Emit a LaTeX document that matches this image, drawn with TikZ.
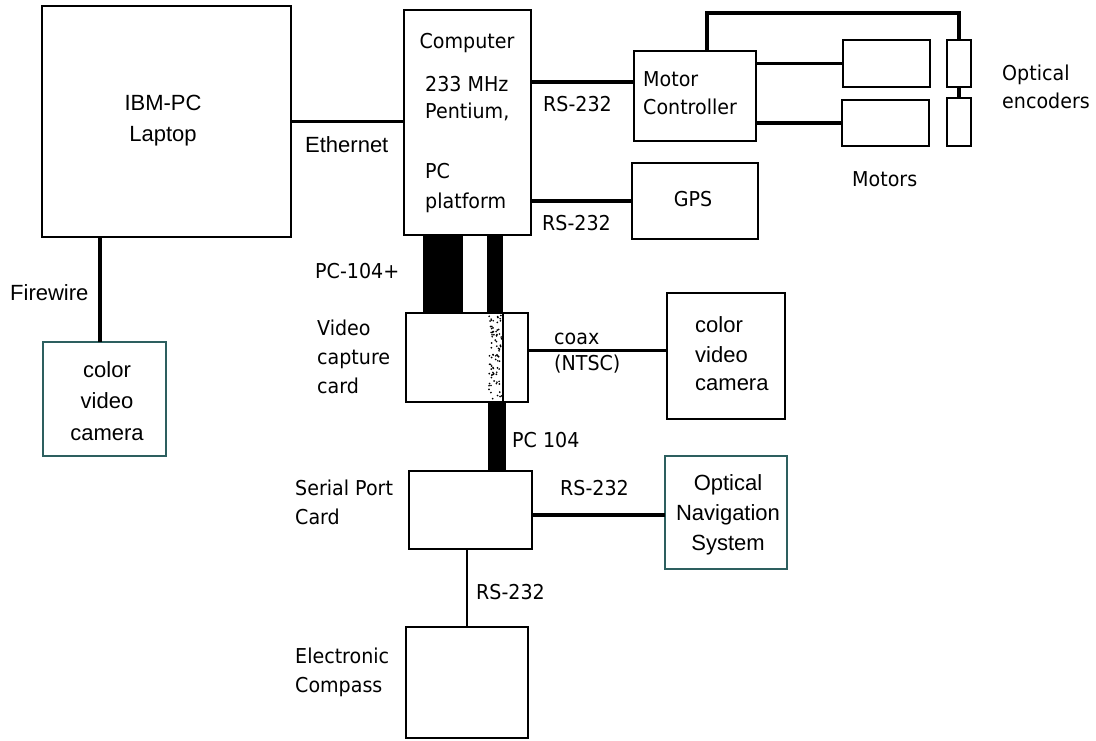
\documentclass[tikz,border=0pt]{standalone}
\usepackage{fontspec}
\newfontfamily\gen[FakeStretch=0.93]{DejaVu Sans}
\newfontfamily\hel{Liberation Sans}
\definecolor{teal1}{RGB}{45,95,95}
\begin{document}
\begin{tikzpicture}[x=1pt,y=-1pt,
  box/.style={draw=black,line width=1.6pt,inner sep=0pt,outer sep=0pt,rectangle},
  tbox/.style={box,draw=teal1},
  conn/.style={line width=3.2pt},
  thin/.style={line width=2.4pt},
  gl/.style={inner sep=0pt,font=\gen\fontsize{20.5}{24}\selectfont},
  hl/.style={inner sep=0pt,font=\hel\fontsize{22}{26}\selectfont}]
\useasboundingbox[fill=white] (0,0) rectangle (1096,740);
% boxes
\node[box,minimum width=249pt,minimum height=231pt] (laptop) at (166.5,121.5) {};
\node[tbox,minimum width=123pt,minimum height=114pt] (camL) at (104.5,399) {};
\node[box,minimum width=127pt,minimum height=225pt] (computer) at (467.5,122.5) {};
\node[box,minimum width=122pt,minimum height=90pt] (mc) at (695,96) {};
\node[box,minimum width=126pt,minimum height=76pt] (gps) at (695,201) {};
\node[box,minimum width=87pt,minimum height=47pt] (mot1) at (886.5,63.5) {};
\node[box,minimum width=87pt,minimum height=46pt] (mot2) at (885.5,123) {};
\node[box,minimum width=24pt,minimum height=47pt] (enc1) at (959,63.5) {};
\node[box,minimum width=24pt,minimum height=48pt] (enc2) at (959,122) {};
\node[box,minimum width=122pt,minimum height=89pt] (vcard) at (467,357.5) {};
\node[box,minimum width=118pt,minimum height=126pt] (camR) at (726,356) {};
\node[box,minimum width=123pt,minimum height=78pt] (serial) at (470.5,510) {};
\node[tbox,minimum width=122pt,minimum height=113pt] (ons) at (726,512.5) {};
\node[box,minimum width=122pt,minimum height=111pt] (compass) at (467,682.5) {};
% connectors
\draw[conn] (laptop.east) -- (laptop.east -| computer.west);
\draw[conn] ([xshift=-4.5pt]camL.north) -- ([xshift=-4.5pt]camL.north |- laptop.south);
\draw[conn] ([yshift=14pt]mc.west) -- ([yshift=14pt]mc.west -| computer.east);
\draw[conn] (gps.west) -- (gps.west -| computer.east);
\draw[conn] (mot1.west) -- (mot1.west -| mc.east);
\draw[conn] (mot2.west) -- (mot2.west -| mc.east);
\draw[conn] ([xshift=12pt]mc.north) -- ++(0,-38) -| (enc1.north);
\draw[conn] (enc1.south) -- (enc2.north);
\draw[conn] ([yshift=5.5pt]camR.west) -- ([yshift=5.5pt]camR.west -| vcard.east);
\draw[conn] ([yshift=-2.5pt]ons.west) -- ([yshift=-2.5pt]ons.west -| serial.east);
\draw[thin] (compass.north) -- (compass.north |- serial.south);
% PC-104 buses
\fill[black] ([xshift=19pt]computer.south west) rectangle ([xshift=57pt]vcard.north west);
\fill[black] ([xshift=83pt]computer.south west) rectangle ([xshift=97pt]vcard.north west);
\fill[black] ([xshift=82pt]vcard.south west) rectangle ([xshift=97pt]serial.north west);
\pgfmathsetseed{11}
\foreach \i in {1,...,85}{
  \pgfmathsetmacro{\dx}{83+13*rnd}
  \pgfmathsetmacro{\dy}{2+85*rnd}
  \fill[black] ([xshift=\dx pt,yshift=-\dy pt]vcard.north west) circle (0.95pt);
}
\draw[line width=1.8pt] ([xshift=97pt]vcard.north west) -- ([xshift=97pt]vcard.south west);
\draw[line width=1.6pt] (vcard.north west) -- (vcard.north east) -- (vcard.south east) -- (vcard.south west) -- cycle;
% labels (Geneva-like)
\node[gl,anchor=base] (t1) at (467,48) {Computer};
\node[gl,anchor=base west] (t2) at (425,91) {233 MHz};
\node[gl,anchor=base west] (t3) at (425,118) {Pentium,};
\node[gl,anchor=base west] (t4) at (425,178) {PC};
\node[gl,anchor=base west] (t5) at (425,208) {platform};
\node[gl,anchor=base west] (t6) at (543,111) {RS-232};
\node[gl,anchor=base west] (t7) at (542,230) {RS-232};
\node[gl,anchor=base west] (t8) at (643,86) {Motor};
\node[gl,anchor=base west] (t9) at (643,114) {Controller};
\node[gl,anchor=base] (t10) at (693,206) {GPS};
\node[gl,anchor=base west] (t11) at (1002,80) {Optical};
\node[gl,anchor=base west] (t12) at (1002,108) {encoders};
\node[gl,anchor=base west] (t13) at (852,186) {Motors};
\node[gl,anchor=base west] (t14) at (315,278) {PC-104+};
\node[gl,anchor=base west] (t15) at (317,335) {Video};
\node[gl,anchor=base west] (t16) at (317,364) {capture};
\node[gl,anchor=base west] (t17) at (317,393) {card};
\node[gl,anchor=base west] (t18) at (554,344) {coax};
\node[gl,anchor=base west] (t19) at (554,370) {(NTSC)};
\node[gl,anchor=base west] (t20) at (512,447) {PC 104};
\node[gl,anchor=base west] (t21) at (295,495) {Serial Port};
\node[gl,anchor=base west] (t22) at (295,524) {Card};
\node[gl,anchor=base west] (t23) at (560,495) {RS-232};
\node[gl,anchor=base west] (t24) at (476,599) {RS-232};
\node[gl,anchor=base west] (t25) at (295,663) {Electronic};
\node[gl,anchor=base west] (t26) at (295,692) {Compass};
% labels (Helvetica-like)
\node[hl,anchor=base] (h1) at (163,110) {IBM-PC};
\node[hl,anchor=base] (h2) at (163,141) {Laptop};
\node[hl,anchor=base west] (h3) at (305,152) {Ethernet};
\node[hl,anchor=base west] (h4) at (10,300) {Firewire};
\node[hl,anchor=base] (h5) at (107,377) {color};
\node[hl,anchor=base] (h6) at (107,408) {video};
\node[hl,anchor=base] (h7) at (107,440) {camera};
\node[hl,anchor=base west] (h8) at (695,332) {color};
\node[hl,anchor=base west] (h9) at (695,362) {video};
\node[hl,anchor=base west] (h10) at (695,390) {camera};
\node[hl,anchor=base] (h11) at (728,490) {Optical};
\node[hl,anchor=base] (h12) at (728,520) {Navigation};
\node[hl,anchor=base] (h13) at (728,550) {System};
\end{tikzpicture}
\end{document}
